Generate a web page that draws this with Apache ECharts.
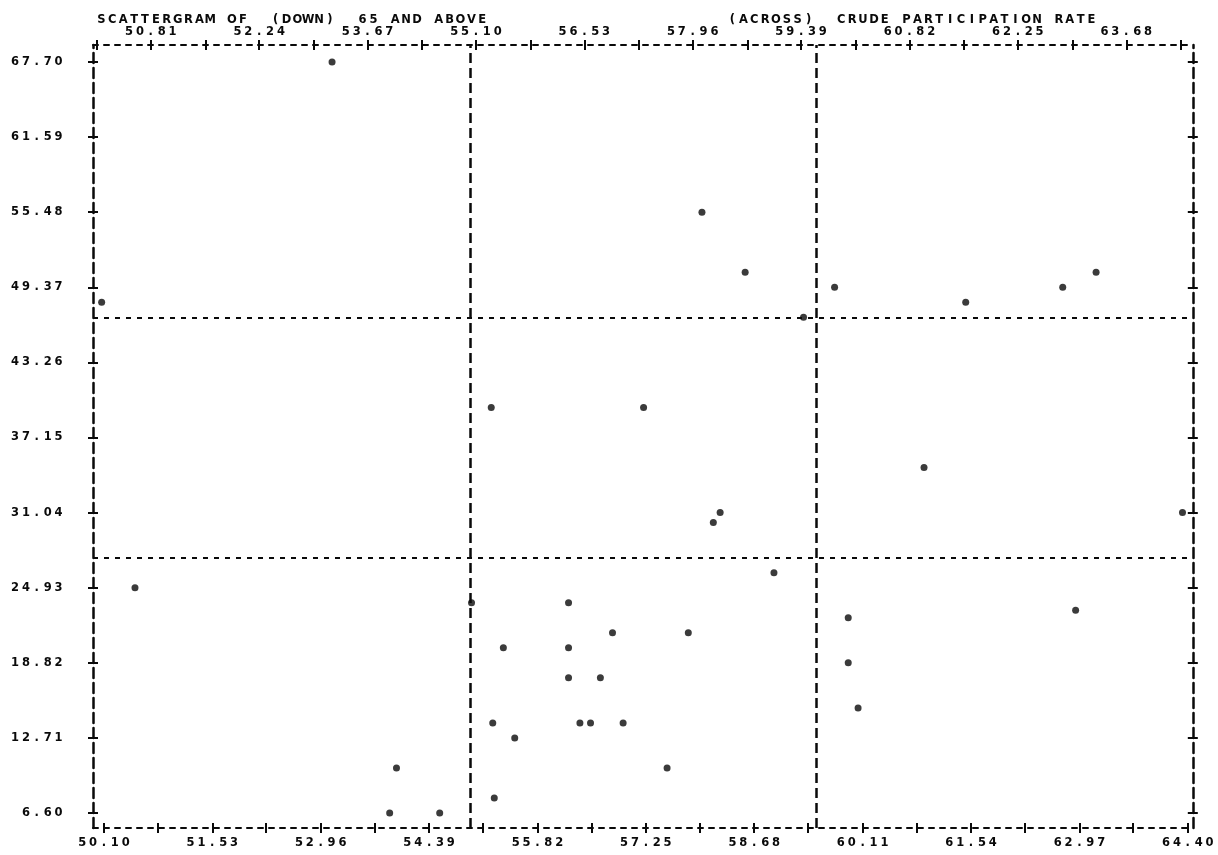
<!DOCTYPE html>
<html><head><meta charset="utf-8">
<script src="https://cdn.jsdelivr.net/npm/echarts@6/dist/echarts.min.js"></script>
<style>html,body{margin:0;padding:0;background:#fff}#c{width:1218px;height:855px}</style>
</head><body><div id="c"></div>
<script>
// ---- text ----
const titleDown = 'SCATTERGRAM OF  (DOWN)  65 AND ABOVE';
const titleAcross = '(ACROSS)  CRUDE PARTICIPATION RATE';

// ---- tick labels ----
const xBottomLabels = ['50.10','51.53','52.96','54.39','55.82','57.25','58.68','60.11','61.54','62.97','64.40'];
const xTopLabels = ['50.81','52.24','53.67','55.10','56.53','57.96','59.39','60.82','62.25','63.68'];
const yLabels = ['6.60','12.71','18.82','24.93','31.04','37.15','43.26','49.37','55.48','61.59','67.70'];

// ---- divider positions (values) ----
const xDividers = [54.93, 59.50];
const yDividers = [46.93, 27.37];

// ---- data: (ACROSS) crude participation rate, (DOWN) 65 and above ----
const participation = [53.11, 50.07, 57.99, 58.56, 59.74, 61.47, 62.75, 63.19, 59.33,
  55.21, 57.22, 58.23, 58.14, 60.92, 64.33,
  50.51, 53.96, 53.87, 54.53,
  58.94, 54.95, 56.23, 56.81, 57.81, 55.37, 56.23, 56.23, 56.65, 55.23, 56.38, 56.52, 56.95, 55.52, 57.53, 55.25,
  59.92, 59.92, 60.05, 62.92];
const above65 = [67.70, 48.15, 55.48, 50.59, 49.37, 48.15, 49.37, 50.59, 46.93,
  39.59, 39.59, 31.04, 30.23, 34.71, 31.04,
  24.93, 10.27, 6.60, 6.60,
  26.15, 23.71, 23.71, 21.26, 21.26, 20.04, 20.04, 17.60, 17.60, 13.93, 13.93, 13.93, 13.93, 12.71, 10.27, 7.82,
  22.49, 18.82, 15.15, 23.10];

const INK = '#0a0a0a';
const FONT = '"DejaVu Sans", sans-serif';
function mono(s){ return s.split('').map(ch => '{c|' + ch + '}').join(''); }
const rich = { c: { width: 10.88, align: 'center', fontFamily: FONT, fontWeight: 'bold', fontSize: 11.5, color: INK, lineHeight: 14 } };

const xB = xBottomLabels.map(Number), xT = xTopLabels.map(Number), yV = yLabels.map(Number);
const xTicks = xB.concat(xT).sort((a,b)=>a-b);
const X0 = 49.956, X1 = 64.466, XS = 0.092; // top row of the print sits slightly left
const Y0 = 5.38, Y1 = 69.08;

const hDash = { color: INK, width: 2, type: [5, 6] };
const vDash = { color: INK, width: 2.5, type: [10, 5] };
function xAx(pos, inside, labels, shift, line){
  return { type:'value', position: pos, min: X0 + shift, max: X1 + shift,
    axisLine: { show: line, onZero: false, lineStyle: hDash },
    axisTick: { show: true, inside: inside, length: 5, customValues: xTicks, lineStyle: { color: INK, width: 2 } },
    axisLabel: labels ? { show: true, customValues: labels.map(Number), formatter: v => mono(labels[labels.map(Number).indexOf(v)] || v.toFixed(2)), rich: rich, margin: pos==='top' ? 6 : 8 } : { show: false },
    splitLine: { show: false } };
}
function yAx(pos, inside, labels, line){
  return { type:'value', position: pos, min: Y0, max: Y1,
    axisLine: { show: line, onZero: false, lineStyle: vDash },
    axisTick: { show: true, inside: inside, length: 5, customValues: yV, lineStyle: { color: INK, width: 2 } },
    axisLabel: labels ? { show: true, customValues: yV, formatter: v => mono(labels[yV.indexOf(v)] || v.toFixed(2)), rich: rich, margin: 29 } : { show: false },
    splitLine: { show: false } };
}

const chart = echarts.init(document.getElementById('c'), null, { renderer: 'canvas' });
chart.setOption({
  animation: false,
  backgroundColor: '#ffffff',
  title: { text: mono(titleDown + ' '.repeat(58 - titleDown.length) + titleAcross), left: 91, top: 8,
    textStyle: { rich: rich } },
  grid: { left: 93, right: 20, top: 45, bottom: 27, containLabel: false },
  xAxis: [ xAx('bottom', false, xBottomLabels, 0, true), xAx('bottom', true, null, 0, false),
           xAx('top', false, xTopLabels, XS, true), xAx('top', true, null, XS, false) ],
  yAxis: [ yAx('left', false, yLabels, true), yAx('left', true, null, false),
           yAx('right', false, null, true), yAx('right', true, null, false) ],
  series: [
    { type: 'scatter', xAxisIndex: 0, yAxisIndex: 0, symbol: 'circle', symbolSize: 7,
      itemStyle: { color: INK }, data: participation.map((x, i) => [x, above65[i]]) },
    { type: 'scatter', xAxisIndex: 0, yAxisIndex: 0, data: [],
      markLine: { silent: true, symbol: ['none','none'], label: { show: false },
        data: xDividers.map(v => ({ xAxis: v, lineStyle: vDash })).concat(yDividers.map(v => ({ yAxis: v, lineStyle: hDash }))) } }
  ]
});
</script></body></html>
